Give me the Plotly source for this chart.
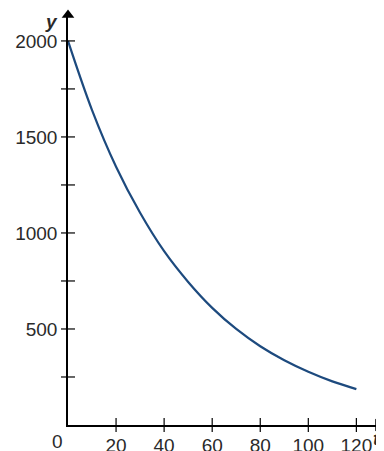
import plotly.graph_objects as go

# values
t_vals = [0, 10, 20, 30, 40, 50, 60, 70, 80, 90, 100, 110, 120]
y_vals = [2000, 1640, 1345, 1105, 905, 745, 610, 500, 410, 337, 277, 227, 187]

x_ticks = [20, 40, 60, 80, 100, 120]
x_ticktext = ['20', '40', '60', '80', '100', '120']
y_ticks = [500, 1000, 1500, 2000]
y_ticktext = ['500', '1000', '1500', '2000']
y_minor = [250, 500, 750, 1000, 1250, 1500, 1750, 2000]

x_max = 129
y_max = 2135
font = dict(family='Liberation Sans, Arial, sans-serif', size=19, color='#2a2a2a')

fig = go.Figure()

# the curve
fig.add_trace(go.Scatter(x=t_vals, y=y_vals, mode='lines', line=dict(color='#1d4a7e', width=2.2, shape='spline'),
                         hoverinfo='skip', showlegend=False))

# tick marks crossing the axes
fig.add_trace(go.Scatter(x=[0] * len(y_minor), y=y_minor, mode='markers',
                         marker=dict(symbol='line-ew', size=10, line=dict(color='black', width=1.2)),
                         cliponaxis=False, hoverinfo='skip', showlegend=False))
fig.add_trace(go.Scatter(x=x_ticks, y=[0] * len(x_ticks), mode='markers',
                         marker=dict(symbol='line-ns', size=10, line=dict(color='black', width=1.2)),
                         cliponaxis=False, hoverinfo='skip', showlegend=False))

# arrow heads
fig.add_trace(go.Scatter(x=[0], y=[y_max], mode='markers',
                         marker=dict(symbol='triangle-up', size=11, color='black'),
                         cliponaxis=False, hoverinfo='skip', showlegend=False))
fig.add_trace(go.Scatter(x=[x_max], y=[0], mode='markers',
                         marker=dict(symbol='triangle-right', size=11, color='black'),
                         cliponaxis=False, hoverinfo='skip', showlegend=False))

# page body has an 8px margin, so the figure is sized to fit inside the window
fig.update_layout(
    width=376, height=443,
    margin=dict(l=60, r=6, t=7, b=26),
    plot_bgcolor='white', paper_bgcolor='white',
    font=font,
    xaxis=dict(range=[0, x_max], showgrid=False, zeroline=False, showline=True, linecolor='black', linewidth=1.5,
               tickvals=x_ticks, ticktext=x_ticktext, ticks='', ticklabelstandoff=2, automargin=False,
               fixedrange=True),
    yaxis=dict(range=[0, y_max], showgrid=False, zeroline=False, showline=True, linecolor='black', linewidth=1.5,
               tickvals=y_ticks, ticktext=y_ticktext, ticks='', ticklabelstandoff=5, automargin=False,
               fixedrange=True),
    annotations=[
        dict(x=0, y=0, xref='x', yref='y', text='0', showarrow=False, xanchor='right', yanchor='top',
             xshift=-3, yshift=-4, font=font),
        dict(x=0, y=y_max, xref='x', yref='y', text='<b><i>y</i></b>', showarrow=False, xanchor='right',
             yanchor='middle', xshift=-8, yshift=-6, font=font),
        dict(x=1, y=0, xref='paper', yref='paper', text='<b><i>t</i></b>', showarrow=False, xanchor='right',
             yanchor='top', xshift=4, yshift=-1, font=font),
    ],
)

fig.write_html("out.html")
